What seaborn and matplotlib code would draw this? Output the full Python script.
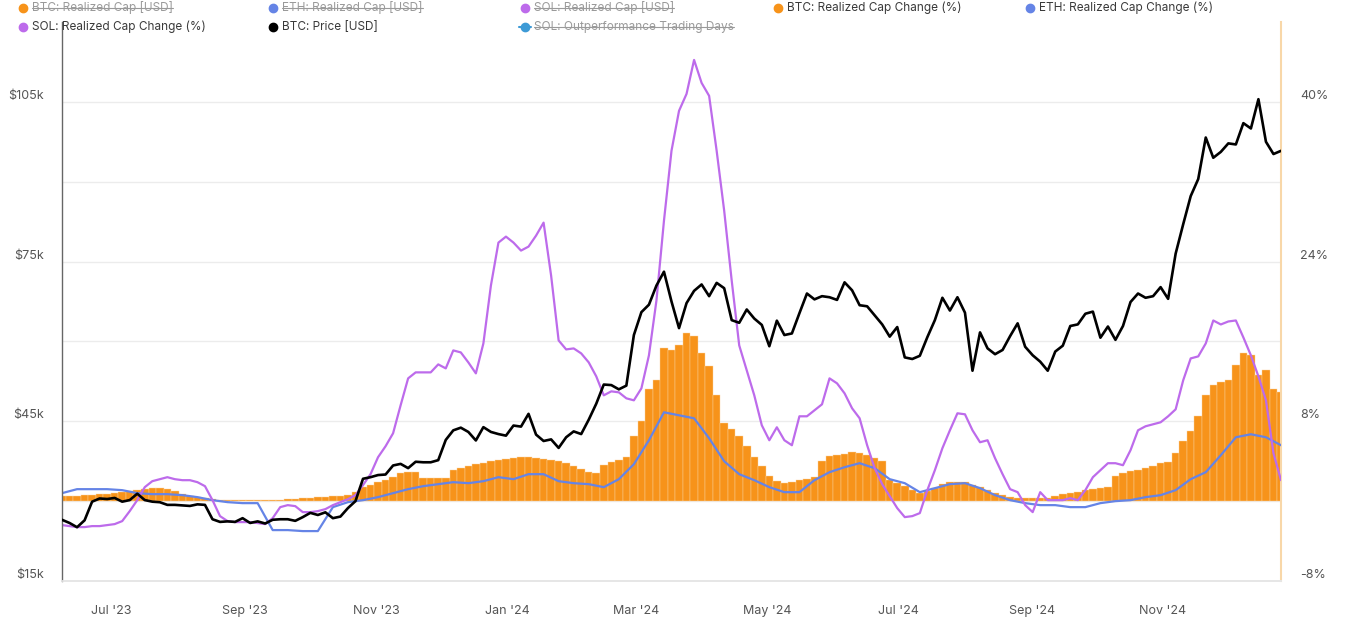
import numpy as np
import pandas as pd
import matplotlib
matplotlib.use("Agg")
import matplotlib.pyplot as plt
import matplotlib.dates as mdates
from matplotlib.lines import Line2D
from matplotlib.ticker import FixedLocator, FuncFormatter
import seaborn as sns

# ---------------- data ----------------
start_date = "2023-06-08"   # BTC price, BTC change and SOL change sampled every 3.5 days

btc_price_k = [
    26.5, 25.9, 25.1, 26.4, 29.9, 30.5, 30.4, 30.6, 29.9, 30.2,
    31.4, 30.2, 29.9, 29.8, 29.3, 29.3, 29.2, 29.1, 29.4, 29.3,
    26.6, 26.1, 26.2, 26.1, 26.8, 25.9, 26.2, 25.8, 26.5, 26.6,
    26.6, 26.3, 27.0, 27.8, 27.4, 27.9, 26.8, 27.1, 28.7, 30.0,
    34.2, 34.5, 34.9, 35.0, 36.7, 37.0, 36.2, 37.4, 37.3, 37.3,
    37.7, 41.5, 43.3, 43.8, 43.0, 41.4, 43.9, 43.0, 42.6, 42.3,
    44.2, 44.0, 46.4, 42.5, 41.3, 41.6, 40.0, 42.0, 43.1, 42.6,
    45.3, 48.3, 51.9, 51.8, 51.0, 51.7, 61.2, 65.5, 66.9, 70.5,
    73.1, 67.5, 62.5, 67.2, 69.5, 70.7, 68.5, 71.0, 70.0, 64.0,
    63.5, 66.0, 64.3, 63.1, 59.1, 63.9, 61.2, 61.5, 65.3, 69.0,
    67.9, 68.5, 68.3, 67.8, 71.1, 69.6, 66.8, 66.6, 64.9, 63.2,
    60.9, 62.7, 57.0, 56.7, 57.3, 60.8, 64.0, 68.2, 65.8, 68.3,
    65.4, 54.5, 61.7, 58.7, 57.6, 58.4, 61.0, 63.4, 59.0, 57.4,
    56.2, 54.5, 58.1, 59.2, 62.9, 63.2, 65.2, 65.6, 60.7, 62.8,
    60.3, 62.9, 67.4, 69.0, 68.2, 68.5, 70.2, 68.0, 76.5, 82.0,
    87.3, 90.5, 98.3, 94.5, 95.6, 97.2, 97.0, 101.0, 100.0, 105.5,
    97.5, 95.2, 95.8,
]

btc_rc_change = [
    0.5, 0.5, 0.5, 0.6, 0.6, 0.7, 0.7, 0.8, 0.9, 1.0,
    1.1, 1.2, 1.3, 1.3, 1.2, 1.0, 0.7, 0.5, 0.4, 0.3,
    0.2, 0.1, 0.1, 0.1, 0.1, 0.1, 0.1, 0.1, 0.1, 0.1,
    0.2, 0.2, 0.3, 0.3, 0.4, 0.4, 0.5, 0.5, 0.6, 0.9,
    1.4, 1.6, 1.9, 2.1, 2.4, 2.8, 2.9, 2.9, 2.3, 2.3,
    2.3, 2.3, 3.1, 3.3, 3.5, 3.7, 3.8, 4.0, 4.1, 4.2,
    4.3, 4.4, 4.4, 4.3, 4.2, 4.1, 4.0, 3.8, 3.5, 3.2,
    2.9, 2.8, 3.6, 3.9, 4.1, 4.4, 6.5, 8.0, 11.2, 12.1,
    15.3, 15.1, 15.6, 16.8, 16.5, 14.8, 13.5, 10.6, 7.8, 7.2,
    6.5, 5.5, 4.4, 3.5, 2.5, 2.0, 1.8, 1.9, 2.1, 2.2,
    2.4, 4.0, 4.5, 4.6, 4.7, 4.9, 4.8, 4.6, 4.3, 4.0,
    2.1, 1.8, 1.5, 1.1, 0.8, 1.0, 1.3, 1.7, 1.9, 1.9,
    1.9, 1.6, 1.4, 1.1, 0.8, 0.6, 0.4, 0.3, 0.3, 0.3,
    0.3, 0.3, 0.5, 0.7, 0.8, 0.9, 1.1, 1.2, 1.3, 1.4,
    2.5, 2.8, 3.0, 3.1, 3.3, 3.5, 3.8, 3.9, 4.8, 6.0,
    7.0, 8.5, 10.6, 11.6, 11.9, 12.1, 13.6, 14.8, 14.6, 12.6,
    13.1, 11.2, 10.9,
]

sol_rc_change = [
    -2.4, -2.5, -2.6, -2.6, -2.5, -2.5, -2.4, -2.3, -2.0, -1.0,
    0.1, 1.4, 2.0, 2.2, 2.4, 2.2, 2.1, 2.1, 1.9, 1.5,
    0.1, -1.5, -2.0, -2.1, -2.1, -2.1, -2.2, -2.3, -1.7, -0.6,
    -0.4, -0.5, -1.1, -1.1, -1.0, -0.8, -0.4, -0.1, 0.2, 0.6,
    1.6, 2.7, 4.4, 5.5, 6.8, 9.6, 12.3, 12.9, 12.9, 12.9,
    13.7, 13.3, 15.1, 14.9, 13.9, 12.8, 15.8, 21.6, 25.9, 26.5,
    25.9, 25.1, 25.5, 26.6, 27.9, 22.6, 16.1, 15.2, 15.3, 14.8,
    13.9, 12.5, 10.6, 11.0, 10.9, 10.3, 10.1, 11.3, 14.6, 20.1,
    28.1, 35.1, 39.1, 40.8, 44.2, 41.9, 40.6, 35.1, 29.1, 22.1,
    15.6, 13.1, 10.6, 7.6, 6.1, 7.4, 6.1, 5.6, 8.5, 8.5,
    9.1, 9.7, 12.3, 11.8, 10.8, 9.3, 8.3, 5.6, 3.3, 1.7,
    0.5, -0.7, -1.6, -1.5, -1.2, 1.1, 3.1, 5.3, 7.1, 8.8,
    8.7, 7.1, 5.9, 6.1, 4.3, 2.7, 1.2, 0.9, -0.4, -1.1,
    0.9, 0.1, 0.1, 0.1, 0.3, 0.1, 1.1, 2.4, 3.1, 3.8,
    3.8, 3.6, 5.1, 7.1, 7.5, 7.7, 7.9, 8.5, 9.2, 12.1,
    14.3, 14.5, 15.8, 18.1, 17.7, 18.0, 18.1, 16.4, 14.6, 12.5,
    10.1, 4.8, 2.1,
]

eth_start_date = "2023-06-08"   # ETH change sampled weekly
eth_rc_change = [
    0.8, 1.2, 1.2, 1.2, 1.1, 0.8, 0.7, 0.7, 0.6, 0.4,
    0.1, -0.1, -0.2, -0.2, -2.9, -2.9, -3.0, -3.0, -0.6, -0.1,
    0.1, 0.4, 0.8, 1.2, 1.5, 1.7, 1.9, 1.8, 2.0, 2.4,
    2.2, 2.7, 2.7, 2.0, 1.8, 1.7, 1.4, 2.2, 3.7, 6.1,
    8.9, 8.6, 8.3, 6.3, 4.0, 2.7, 2.1, 1.4, 0.9, 0.9,
    2.1, 2.9, 3.4, 3.8, 3.3, 2.2, 1.8, 0.9, 1.3, 1.7,
    1.8, 1.3, 0.6, 0.1, -0.2, -0.4, -0.4, -0.6, -0.6, -0.2,
    0.0, 0.1, 0.4, 0.6, 1.1, 2.2, 2.9, 4.6, 6.4, 6.7,
    6.4, 5.6,
]

legend_row1 = ["BTC: Realized Cap [USD]", "ETH: Realized Cap [USD]", "SOL: Realized Cap [USD]",
               "BTC: Realized Cap Change (%)", "ETH: Realized Cap Change (%)"]
legend_row2 = ["SOL: Realized Cap Change (%)", "BTC: Price [USD]", "SOL: Outperformance Trading Days"]

dates = pd.date_range(start_date, periods=len(btc_price_k), freq="84h")
eth_dates = pd.date_range(eth_start_date, periods=len(eth_rc_change), freq="7D")

# ---------------- style ----------------
sns.set_theme(style="white")
plt.rcParams["font.family"] = ["Inter", "DejaVu Sans"]

C_BTC = "#F7931A"
C_ETH = "#6584E6"
C_SOL = "#BD6BEB"
C_OUT = "#3D9AD6"
C_TXT = "#555555"

W, H = 1348, 623
fig = plt.figure(figsize=(W / 100, H / 100), dpi=100)
left, right, bottom, top = 62, 1281, 581, 22
ax = fig.add_axes([left / W, 1 - bottom / H, (right - left) / W, (bottom - top) / H])
ax2 = ax.twinx()

# right axis: change series
ax2.bar(dates, btc_rc_change, width=3.5, color=C_BTC, edgecolor="#FBD3A0",
        linewidth=0.3, align="center", zorder=2)
sns.lineplot(x=eth_dates, y=eth_rc_change, ax=ax2, color=C_ETH, linewidth=1.6, zorder=3)
sns.lineplot(x=dates, y=sol_rc_change, ax=ax2, color=C_SOL, linewidth=1.6, zorder=4)

# left axis: BTC price
sns.lineplot(x=dates, y=btc_price_k, ax=ax, color="black", linewidth=1.9, zorder=5)
ax.set_zorder(ax2.get_zorder() + 1)
ax.patch.set_visible(False)

# limits
xmin, xmax = pd.Timestamp("2023-06-08"), pd.Timestamp("2024-12-26")
ax.set_xlim(xmin, xmax)
ax2.set_xlim(xmin, xmax)
ax.set_ylim(15, 120)
ax2.set_ylim(-8, 48)

# grid on the right axis
ax2.yaxis.set_major_locator(FixedLocator([-8, 0, 8, 16, 24, 32, 40]))
ax2.yaxis.set_major_formatter(FuncFormatter(lambda v, p: f"{int(v)}%" if int(v) in (-8, 8, 24, 40) else ""))
ax2.grid(True, axis="y", color="#ececec", linewidth=1.0)
ax2.grid(False, axis="x")
ax2.set_axisbelow(True)
ax.grid(False)

ax.yaxis.set_major_locator(FixedLocator([15, 45, 75, 105]))
ax.yaxis.set_major_formatter(FuncFormatter(lambda v, p: f"${int(v)}k"))

ax.xaxis.set_major_locator(mdates.MonthLocator(bymonth=[1, 3, 5, 7, 9, 11]))
ax.xaxis.set_major_formatter(mdates.DateFormatter("%b '%y"))

ax.tick_params(axis="y", length=0, pad=13, labelsize=9, labelcolor=C_TXT)
ax2.tick_params(axis="y", length=0, pad=14, labelsize=9, labelcolor=C_TXT)
ax.tick_params(axis="x", length=12, width=0.8, color="#ececec", pad=5, labelsize=9, labelcolor=C_TXT)
ax2.tick_params(axis="x", length=0, labelbottom=False)
ax.set_xlabel("")
ax.set_ylabel("")
ax2.set_ylabel("")

for t in ax.yaxis.get_major_ticks():
    t.label1.set_va("bottom")
for t in ax2.yaxis.get_major_ticks():
    t.label2.set_va("bottom")

for a in (ax, ax2):
    a.spines["top"].set_visible(False)
    a.spines["bottom"].set_color("#e6e6e6")
ax.spines["left"].set_color("#666666")
ax.spines["left"].set_linewidth(1.0)
ax.spines["right"].set_visible(False)
ax2.spines["left"].set_visible(False)
ax2.spines["right"].set_color("#F8D7A8")
ax2.spines["right"].set_linewidth(1.5)

# ---------------- custom legend ----------------
cols_px = [23, 273, 525, 778, 1030]
rows_px = [8, 27]
entries = [
    (legend_row1[0], C_BTC, True, False),
    (legend_row1[1], C_ETH, True, False),
    (legend_row1[2], C_SOL, True, False),
    (legend_row1[3], C_BTC, False, False),
    (legend_row1[4], C_ETH, False, False),
    (legend_row2[0], C_SOL, False, False),
    (legend_row2[1], "black", False, False),
    (legend_row2[2], C_OUT, True, True),
]
texts = []
for idx, (label, col, hidden, linemark) in enumerate(entries):
    r = 0 if idx < 5 else 1
    c = idx if idx < 5 else idx - 5
    xd, yd = cols_px[c], rows_px[r]
    fx, fy = xd / W, 1 - yd / H
    if linemark:
        fig.add_artist(Line2D([(xd - 6) / W, (xd + 6) / W], [fy, fy], color=col,
                              linewidth=1.5, transform=fig.transFigure))
    fig.add_artist(Line2D([fx], [fy], marker="o", markersize=6, color=col,
                          linestyle="none", transform=fig.transFigure))
    t = fig.text((xd + 9) / W, fy, label, fontsize=8.5, va="center", ha="left",
                 color="#9a9a9a" if hidden else "#3a3a3a")
    texts.append((t, hidden))

fig.canvas.draw()
inv = fig.transFigure.inverted()
for t, hidden in texts:
    if hidden:
        bb = t.get_window_extent().transformed(inv)
        ym = (bb.y0 + bb.y1) / 2
        fig.add_artist(Line2D([bb.x0, bb.x1], [ym, ym], color="#9a9a9a",
                              linewidth=0.8, transform=fig.transFigure))

fig.savefig("out.png", dpi=100)
